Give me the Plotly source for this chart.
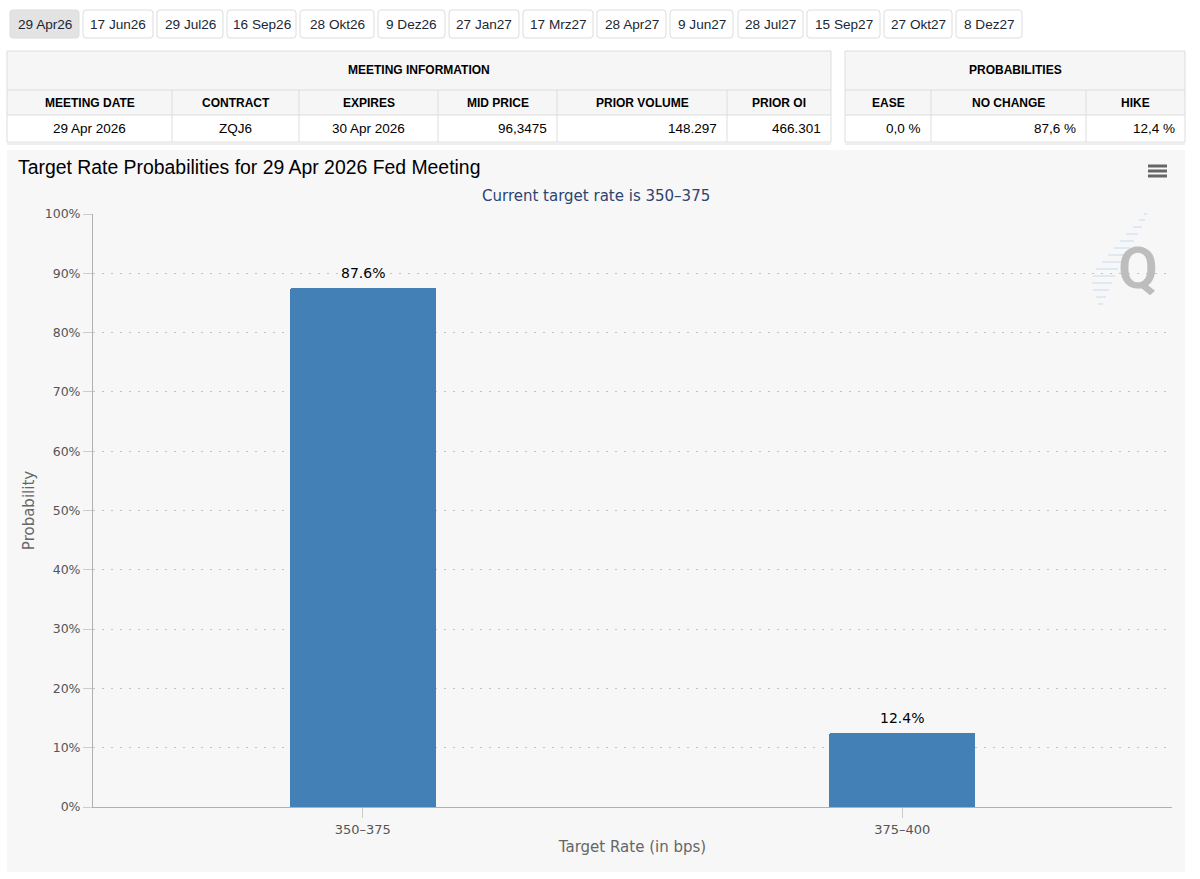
import plotly.graph_objects as go

W, H = 1200, 879

# ---------------- data ----------------
tab_labels = ["29 Apr26", "17 Jun26", "29 Jul26", "16 Sep26", "28 Okt26", "9 Dez26",
              "27 Jan27", "17 Mrz27", "28 Apr27", "9 Jun27", "28 Jul27", "15 Sep27",
              "27 Okt27", "8 Dez27"]
active_tab = 0

meeting_title = "MEETING INFORMATION"
meeting_headers = ["MEETING DATE", "CONTRACT", "EXPIRES", "MID PRICE", "PRIOR VOLUME", "PRIOR OI"]
meeting_values = ["29 Apr 2026", "ZQJ6", "30 Apr 2026", "96,3475", "148.297", "466.301"]

prob_title = "PROBABILITIES"
prob_headers = ["EASE", "NO CHANGE", "HIKE"]
prob_values = ["0,0 %", "87,6 %", "12,4 %"]

meeting_date = "29 Apr 2026"
current_rate = "350–375"
target_rates = ["350–375", "375–400"]
probabilities = [87.6, 12.4]

# ---------------- layout geometry (pixels) ----------------
tab_edges = [(10, 79), (83, 153), (157, 223), (227, 296), (300, 374), (378, 445),
             (449, 519), (523, 593), (597, 666), (670, 733), (738, 803), (807, 880),
             (884, 952), (956, 1022)]
tab_top, tab_bot = 10, 38
meet_cols = [7, 172, 299, 438, 557, 727, 831]
meet_align = ["center", "center", "center", "right", "right", "right"]
prob_cols = [845, 931, 1086, 1185]
prob_align = ["right", "right", "right"]
row_y = [51, 90, 115, 142]

FONT_UI = "Liberation Sans, Arial, sans-serif"
FONT_CH = "DejaVu Sans, Verdana, sans-serif"


def fx(x):
    return x / W


def fy(y):
    return 1 - y / H


def rrect_path(x0, y0, x1, y1, r):
    def p(x, y):
        return f"{fx(x):.5f},{fy(y):.5f}"
    return (f"M {p(x0 + r, y0)} L {p(x1 - r, y0)} Q {p(x1, y0)} {p(x1, y0 + r)} "
            f"L {p(x1, y1 - r)} Q {p(x1, y1)} {p(x1 - r, y1)} L {p(x0 + r, y1)} "
            f"Q {p(x0, y1)} {p(x0, y1 - r)} L {p(x0, y0 + r)} Q {p(x0, y0)} {p(x0 + r, y0)} Z")


shapes = []
annotations = []


def rect(x0, y0, x1, y1, fill, line="rgba(0,0,0,0)", lw=1, layer="below"):
    shapes.append(dict(type="rect", xref="paper", yref="paper",
                       x0=fx(x0), x1=fx(x1), y0=fy(y1), y1=fy(y0),
                       fillcolor=fill, line=dict(color=line, width=lw), layer=layer))


def hline(x0, x1, y, color, w=1, layer="below"):
    shapes.append(dict(type="line", xref="paper", yref="paper",
                       x0=fx(x0), x1=fx(x1), y0=fy(y), y1=fy(y),
                       line=dict(color=color, width=w), layer=layer))


def vline(x, y0, y1, color, w=1, layer="below"):
    shapes.append(dict(type="line", xref="paper", yref="paper",
                       x0=fx(x), x1=fx(x), y0=fy(y0), y1=fy(y1),
                       line=dict(color=color, width=w), layer=layer))


def text(x, y, s, size, color="#000", bold=False, xanchor="center", family=FONT_UI):
    annotations.append(dict(xref="paper", yref="paper", x=fx(x), y=fy(y),
                            text=f"<b>{s}</b>" if bold else s, showarrow=False,
                            xanchor=xanchor, yanchor="middle",
                            font=dict(family=family, size=size, color=color)))


# ---- tabs ----
for i, (lab, (x0, x1)) in enumerate(zip(tab_labels, tab_edges)):
    fill = "#e3e3e3" if i == active_tab else "#ffffff"
    shapes.append(dict(type="path", xref="paper", yref="paper",
                       path=rrect_path(x0, tab_top, x1, tab_bot, 3),
                       fillcolor=fill, line=dict(color="#dddddd", width=1), layer="below"))
    text((x0 + x1) / 2, (tab_top + tab_bot) / 2 + 0.5, lab, 13.6, color="#1c2733")

BORDER = "#dddddd"
HEAD_BG = "#f6f6f6"


def draw_table(cols, title, headers, values, aligns):
    x0, x1 = cols[0], cols[-1]
    rect(x0, row_y[0], x1, row_y[2], HEAD_BG)
    rect(x0, row_y[2], x1, row_y[3], "#ffffff")
    for y in row_y:
        hline(x0, x1, y, BORDER)
    vline(x0, row_y[0], row_y[3], BORDER)
    vline(x1, row_y[0], row_y[3], BORDER)
    for c in cols[1:-1]:
        vline(c, row_y[1], row_y[3], BORDER)
    hline(x0, x1, row_y[3] + 2, "#eeeeee", 2)
    text((x0 + x1) / 2, (row_y[0] + row_y[1]) / 2, title, 12, bold=True)
    for j, h in enumerate(headers):
        text((cols[j] + cols[j + 1]) / 2, (row_y[1] + row_y[2]) / 2, h, 12, bold=True)
    for j, v in enumerate(values):
        yc = (row_y[2] + row_y[3]) / 2
        if aligns[j] == "right":
            text(cols[j + 1] - 8, yc, v, 13.5, xanchor="right")
        else:
            text((cols[j] + cols[j + 1]) / 2, yc, v, 13.5)


draw_table(meet_cols, meeting_title, meeting_headers, meeting_values, meet_align)
draw_table(prob_cols, prob_title, prob_headers, prob_values, prob_align)

# ---- chart container ----
rect(7, 150, 1185, 872, "#f7f7f7")

# hamburger menu
for y in (166, 171, 176):
    hline(1148, 1167, y, "#666666", 3, layer="above")

# watermark: streaks + Q
streaks = [(1147, 214, 3), (1145, 220, 6), (1142, 227, 9), (1138, 234, 12),
           (1134, 241, 14), (1130, 248, 16), (1126, 255, 18), (1122, 262, 20),
           (1118, 269, 22), (1115, 276, 22), (1112, 283, 20), (1109, 290, 16),
           (1106, 297, 10), (1103, 304, 5)]
for xr, y, ln in streaks:
    hline(xr - ln, xr, y, "#d6e5f3", 1.5)
annotations.append(dict(xref="paper", yref="paper", x=fx(1138), y=fy(268),
                        text="Q", showarrow=False, xanchor="center", yanchor="middle",
                        font=dict(family="Roboto, DejaVu Sans, sans-serif", size=58,
                                  weight=600, color="#bdbdbd")))

# subtitle
text(596, 196, f"Current target rate is {current_rate}", 15, color="#2e4371", family=FONT_CH)

# bar value labels (positioned through the data axes)
for cat, val in zip(target_rates, probabilities):
    annotations.append(dict(xref="x", yref="y", x=cat, y=val, text=f"{val:.1f}%",
                            showarrow=False, xanchor="center", yanchor="bottom", yshift=5,
                            font=dict(family=FONT_CH, size=14, color="#000000")))

# ---------------- figure ----------------
fig = go.Figure()
fig.add_trace(go.Bar(
    x=target_rates, y=probabilities, width=0.27,
    marker=dict(color="#4280b6", line=dict(width=0), cornerradius=2),
    hoverinfo="x+y",
))

fig.update_layout(
    width=W, height=H,
    margin=dict(l=0, r=0, t=0, b=0, pad=0, autoexpand=False),
    paper_bgcolor="#ffffff",
    plot_bgcolor="rgba(0,0,0,0)",
    showlegend=False,
    title=dict(text=f"Target Rate Probabilities for {meeting_date} Fed Meeting",
               x=fx(18), y=fy(167), xref="paper", yref="paper",
               xanchor="left", yanchor="middle", automargin=False,
               font=dict(family=FONT_UI, size=19.4, color="#000000")),
    xaxis=dict(domain=[fx(93), fx(1172)], type="category", automargin=False,
               showline=True, linecolor="#b0b0b0", linewidth=1,
               ticks="outside", ticklen=10, tickcolor="#cccccc",
               showgrid=False, zeroline=False,
               tickfont=dict(family=FONT_CH, size=13, color="#555555"),
               title=dict(text="Target Rate (in bps)", standoff=5,
                          font=dict(family=FONT_CH, size=15, color="#666666"))),
    yaxis=dict(domain=[fy(807), fy(214)], range=[0, 100], dtick=10, ticksuffix="%",
               automargin=False,
               showline=True, linecolor="#b0b0b0", linewidth=1,
               ticks="outside", ticklen=9, tickcolor="#cccccc",
               showgrid=True, gridcolor="#c4c4c4", gridwidth=1, griddash="2px,7px",
               zeroline=False,
               tickfont=dict(family=FONT_CH, size=12.5, color="#555555"),
               title=dict(text="Probability", standoff=6,
                          font=dict(family=FONT_CH, size=15, color="#666666"))),
    shapes=shapes,
    annotations=annotations,
    bargap=0,
)

fig.write_html("out.html", config={"displayModeBar": False},
               post_script="document.body.style.margin='0';document.body.style.overflow='hidden';")
